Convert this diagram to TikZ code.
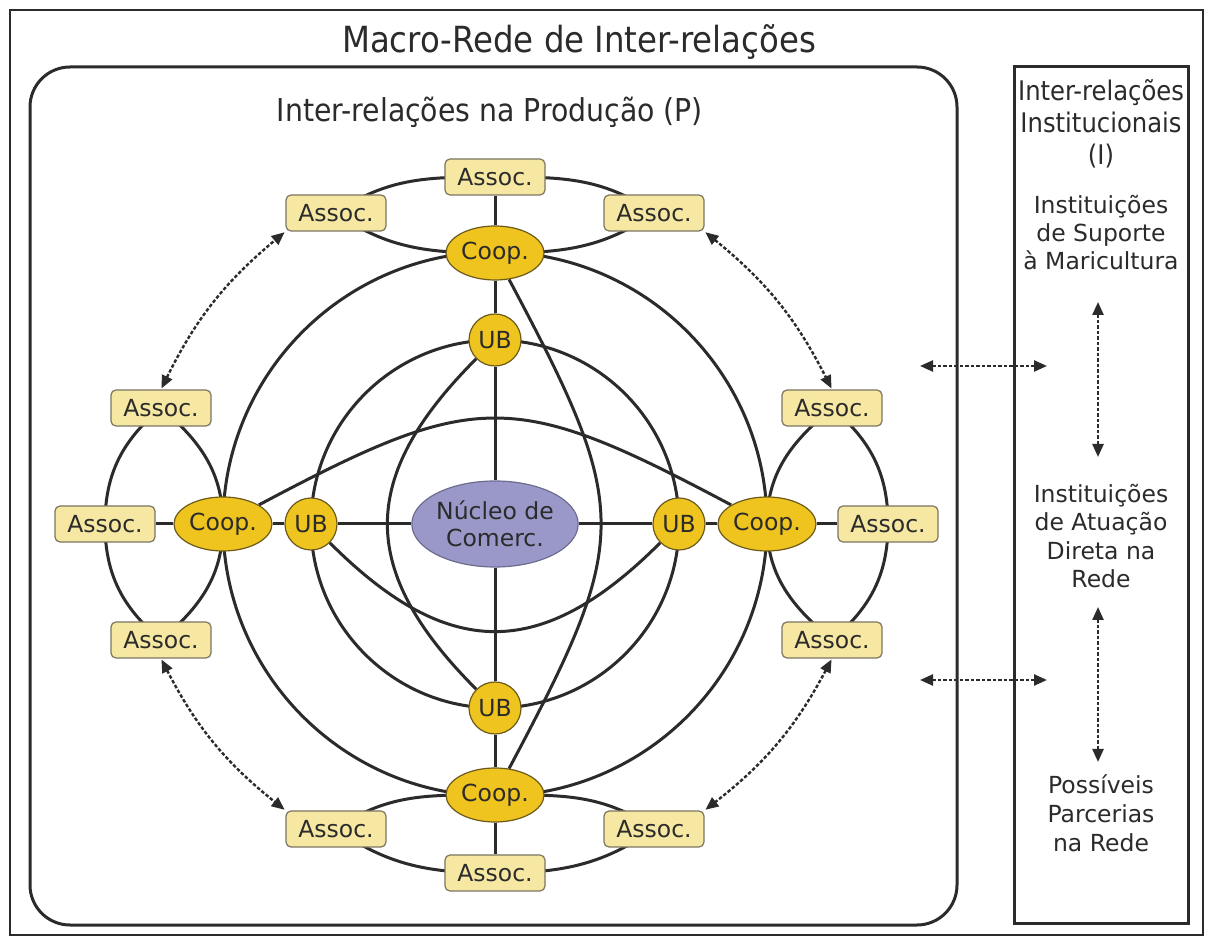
\documentclass[tikz,border=0pt]{standalone}
\usepackage{fontspec}
\setmainfont{DejaVu Sans}
\newfontfamily\headfont{DejaVu Sans Condensed}
\usetikzlibrary{arrows.meta,shapes.geometric}
\pgfdeclarelayer{bg}
\pgfsetlayers{bg,main}
\definecolor{ink}{HTML}{2B2B2B}
\definecolor{gold}{HTML}{F0C41E}
\definecolor{goldedge}{HTML}{6B5A1A}
\definecolor{assocfill}{HTML}{F6E8A2}
\definecolor{assocedge}{HTML}{7A7660}
\definecolor{nucfill}{HTML}{9A98C8}
\definecolor{nucedge}{HTML}{6E6C8E}

\begin{document}
\begin{tikzpicture}[x=1pt,y=1pt,
  body/.style={font=\fontsize{23.5}{28}\selectfont, text=ink},
  assoc/.style={body, draw=assocedge, fill=assocfill, line width=1.2pt,
    rounded corners=5pt, minimum width=100pt, minimum height=36pt, inner sep=0pt},
  coop/.style={body, ellipse, draw=goldedge, fill=gold, line width=1.2pt,
    minimum width=98pt, minimum height=54pt, inner sep=0pt},
  ub/.style={body, circle, draw=goldedge, fill=gold, line width=1.2pt,
    minimum size=52pt, inner sep=0pt},
  link/.style={draw=ink, line width=3pt},
  frame/.style={draw=ink, line width=3pt},
  dotarrow/.style={draw=ink, line width=2.4pt, dash pattern=on 3.5pt off 2pt,
    >={Triangle[length=13pt,width=11pt]}, <->},
  headtext/.style args={#1/#2}{font=\headfont\fontsize{#1}{#2}\selectfont, text=ink},
  sidetext/.style={body, align=center},
]
\useasboundingbox (0,0) rectangle (1209,939);

% central nucleus, UBs and cooperatives
\node[body, ellipse, draw=nucedge, fill=nucfill, line width=1.2pt, minimum width=132pt,
  minimum height=86pt, inner sep=0pt, align=center, font=\fontsize{23.5}{27}\selectfont]
  (N) at (495,415) {Núcleo de\\Comerc.};
\node[ub] (uT) at (495,599) {UB};
\node[ub] (uB) at (495,231) {UB};
\node[ub] (uL) at (311,415) {UB};
\node[ub] (uR) at (679,415) {UB};
\node[coop] (cT) at (495,686) {Coop.};
\node[coop] (cB) at (495,144) {Coop.};
\node[coop] (cL) at (223,415) {Coop.};
\node[coop] (cR) at (767,415) {Coop.};

% associations
\node[assoc] (AT)  at (495,762) {Assoc.};
\node[assoc] (ATL) at (336,726) {Assoc.};
\node[assoc] (ATR) at (654,726) {Assoc.};
\node[assoc] (AB)  at (495,66)  {Assoc.};
\node[assoc] (ABL) at (336,110) {Assoc.};
\node[assoc] (ABR) at (654,110) {Assoc.};
\node[assoc] (AL1) at (161,531) {Assoc.};
\node[assoc] (AL2) at (105,415) {Assoc.};
\node[assoc] (AL3) at (161,299) {Assoc.};
\node[assoc] (AR1) at (832,531) {Assoc.};
\node[assoc] (AR2) at (888,415) {Assoc.};
\node[assoc] (AR3) at (832,299) {Assoc.};

\begin{pgfonlayer}{bg}
  \fill[white] (0,0) rectangle (1209,939);
  % globe: circles through the UBs and the cooperatives
  \draw[link] (N.center) circle[radius=272];
  \draw[link] (N.center) circle[radius=184];
  % meridians and parallels
  \draw[link] (uT) to[out=225,in=135,looseness=1.3] (uB);
  \draw[link] (cT) to[out=-62,in=62,looseness=1.37] (cB);
  \draw[link] (cL) to[out=28,in=152,looseness=1.34] (cR);
  \draw[link] (uL) to[out=-45,in=-135,looseness=1.3] (uR);
  % axes
  \draw[link] (AT) -- (cT) -- (uT) -- (N) -- (uB) -- (cB) -- (AB);
  \draw[link] (AL2) -- (cL) -- (uL) -- (N) -- (uR) -- (cR) -- (AR2);
  % top cluster loop
  \draw[link] (ATL.center) to[out=35,in=180] (AT.center)
                           to[out=0,in=145] (ATR.center);
  \draw[link] (ATL.center) to[out=-35,in=180] (cT.center)
                           to[out=0,in=-145] (ATR.center);
  % bottom cluster loop
  \draw[link] (ABL.center) to[out=35,in=180] (cB.center)
                           to[out=0,in=145] (ABR.center);
  \draw[link] (ABL.center) to[out=-35,in=180] (AB.center)
                           to[out=0,in=-145] (ABR.center);
  % left cluster loop
  \draw[link] (AL1.center) to[out=-140,in=90] (AL2.center)
                           to[out=-90,in=140] (AL3.center);
  \draw[link] (AL1.center) to[out=-40,in=90] (cL.center)
                           to[out=-90,in=40] (AL3.center);
  % right cluster loop
  \draw[link] (AR1.center) to[out=-40,in=90] (AR2.center)
                           to[out=-90,in=40] (AR3.center);
  \draw[link] (AR1.center) to[out=-140,in=90] (cR.center)
                           to[out=-90,in=140] (AR3.center);
\end{pgfonlayer}

% frames
\draw[frame, line width=2.5pt] (10,4) rectangle (1203,929);
\draw[frame, rounded corners=40pt] (30,14) rectangle (957,872);
\draw[frame] (1014,16) rectangle (1188,872);

% titles
\node[headtext=36/43] (title) at (579,897) {Macro-Rede de Inter-relações};
\node[headtext=31.5/38] (prodtitle) at (490,827) {Inter-relações na Produção (P)};

% exchanges between neighbouring clusters
\draw[dotarrow, shorten <=1pt, shorten >=1pt] (AL1.north) to[bend left=12] (ATL.south west);
\draw[dotarrow, shorten <=1pt, shorten >=1pt] (ATR.south east) to[bend left=12] (AR1.north);
\draw[dotarrow, shorten <=1pt, shorten >=1pt] (AL3.south) to[bend right=12] (ABL.north west);
\draw[dotarrow, shorten <=1pt, shorten >=1pt] (AR3.south) to[bend left=12] (ABR.north east);

% institutional column
\node[headtext=27/32, align=center] (inst) at (1101,815) {Inter-relações\\Institucionais\\(I)};
\node[sidetext] (sup) at (1101,706) {Instituições\\de Suporte\\à Maricultura};
\node[sidetext, font=\fontsize{23.5}{28.5}\selectfont] (dir) at (1101,403) {Instituições\\de Atuação\\Direta na\\Rede};
\node[sidetext, font=\fontsize{23.5}{29}\selectfont] (par) at (1101,126) {Possíveis\\Parcerias\\na Rede};

\coordinate (v1a) at (1098,637);
\coordinate (v1b) at (1098,482);
\coordinate (v2a) at (1098,332);
\coordinate (v2b) at (1098,177);
\draw[dotarrow] (v1a) -- (v1b);
\draw[dotarrow] (v2a) -- (v2b);

\coordinate (h1a) at (920,573);
\coordinate (h1b) at (1047,573);
\coordinate (h2a) at (920,259);
\coordinate (h2b) at (1047,259);
\draw[dotarrow] (h1a) -- (h1b);
\draw[dotarrow] (h2a) -- (h2b);
\end{tikzpicture}
\end{document}
